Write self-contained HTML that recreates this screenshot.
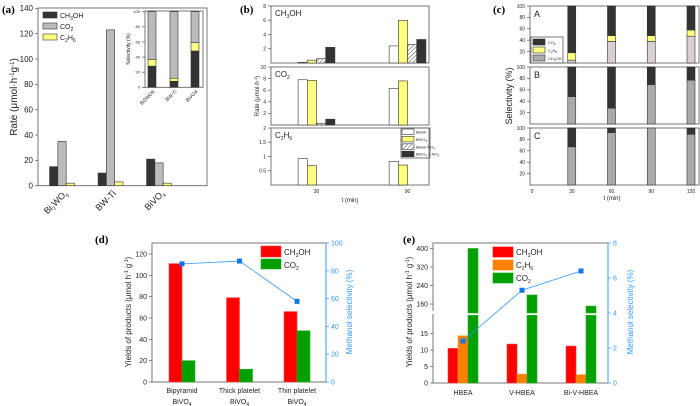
<!DOCTYPE html>
<html><head><meta charset="utf-8"><style>
html,body{margin:0;padding:0;background:#fff;}
svg{display:block;font-family:"Liberation Sans",sans-serif;}
.pl{font-family:"Liberation Serif",serif;font-weight:bold;font-size:11px;}
</style></head><body>
<svg id="fig" width="700" height="406" viewBox="0 0 700 406" xmlns="http://www.w3.org/2000/svg">
<defs><pattern id="hatch" patternUnits="userSpaceOnUse" width="3" height="3" patternTransform="rotate(45)"><rect width="3" height="3" fill="#fff"/><line x1="0" y1="0" x2="0" y2="3" stroke="#444" stroke-width="1"/></pattern></defs>
<text class="pl" x="2" y="13">(a)</text>
<text class="pl" x="240" y="13">(b)</text>
<text class="pl" x="493" y="13">(c)</text>
<text class="pl" x="95" y="243">(d)</text>
<text class="pl" x="403" y="243">(e)</text>
<text x="0" y="0" transform="translate(17,97) rotate(-90)" text-anchor="middle" font-size="10" fill="#222">Rate (μmol·h<tspan font-size="6" dy="-3">-1</tspan><tspan dy="3">g</tspan><tspan font-size="6" dy="-3">-1</tspan><tspan dy="3">)</tspan></text>
<text x="0" y="0" transform="translate(259,96) rotate(-90)" text-anchor="middle" font-size="6" fill="#222">Rate (μmol·h<tspan font-size="4" dy="-2">-1</tspan><tspan dy="2">)</tspan></text>
<text x="350" y="202" text-anchor="middle" font-size="6" fill="#222">t (min)</text>
<text x="0" y="0" transform="translate(512,96) rotate(-90)" text-anchor="middle" font-size="9" fill="#222">Selectivity (%)</text>
<text x="612" y="200" text-anchor="middle" font-size="6" fill="#222">t (min)</text>
<text x="0" y="0" transform="translate(131,312) rotate(-90)" text-anchor="middle" font-size="8" fill="#222">Yields of products (μmol h<tspan font-size="5" dy="-3">-1</tspan><tspan dy="3"> g</tspan><tspan font-size="5" dy="-3">-1</tspan><tspan dy="3">)</tspan></text>
<text x="0" y="0" transform="translate(352,312) rotate(-90)" text-anchor="middle" font-size="8" fill="#3399ff">Methanol selectivity (%)</text>
<text x="0" y="0" transform="translate(412,312) rotate(-90)" text-anchor="middle" font-size="8" fill="#222">Yields of products (μmol h<tspan font-size="5" dy="-3">-1</tspan><tspan dy="3"> g</tspan><tspan font-size="5" dy="-3">-1</tspan><tspan dy="3">)</tspan></text>
<text x="0" y="0" transform="translate(633,312) rotate(-90)" text-anchor="middle" font-size="8" fill="#3399ff">Methanol selectivity (%)</text>
</svg>
<script>
// ---- data ----
const aCats = ['Bi2WO6','BW-Ti','BiVO4'];
const aCH3OH = [15, 10, 21];
const aCO2 = [35, 123, 18];
const aC2H6 = [2, 3, 2];
const aTicks = [0,20,40,60,80,100,120,140];
const aSelCH3OH = [28, 8, 48];
const aSelC2H6 = [9, 4, 11];
const aSelTicks = [0,20,40,60,80,100];
const bTimes = [30, 90];
const bMeOH = [[0.1,0.4,0.6,2.2],[2.4,6.0,2.6,3.3]];
const bCO2 = [[7.8,7.7,0.3,1.0],[6.3,7.6,0,0]];
const bC2H6 = [[0.93,0.68,0,0],[0.83,0.70,0,0]];
const bTicksMeOH = [2,4,6,8];
const bTicksCO2 = [2,4,6,8,10];
const bTicksC2H6 = [0.5,1.0,1.5,2.0];
const cTimes = [30, 60, 90, 120];
const cA_CH3OH = [5, 38, 38, 47];
const cA_C2H6 = [13, 10, 10, 11];
const cB_CH3OH = [48, 28, 69, 77];
const cC_CH3OH = [67, 92, 100, 89];
const cTicks = [20,40,60,80,100];
const cXTicks = [0,30,60,90,120];
const dCats = ['Bipyramid','Thick platelet','Thin platelet'];
const dCH3OH = [111, 79, 66];
const dCO2 = [20, 12, 48];
const dSel = [85, 87, 58];
const dTicks = [0,20,40,60,80,100,120];
const dRTicks = [0,20,40,60,80,100];
const eCats = ['HBEA','V-HBEA','Bi-V-HBEA'];
const eCH3OH = [10.5, 11.8, 11.2];
const eC2H6 = [14.3, 2.7, 2.5];
const eCO2 = [400, 199, 151];
const eSel = [2.4, 5.3, 6.4];
const eLowTicks = [0,5,10,15];
const eHighTicks = [160,240,320,400];
const eRTicks = [0,2,4,6,8];

const svg = document.getElementById('fig');
const NS = 'http://www.w3.org/2000/svg';
function mk(tag, attrs){ const e=document.createElementNS(NS,tag); for(const k in attrs) e.setAttribute(k,attrs[k]); svg.appendChild(e); return e; }
function frame(x0,y0,x1,y1,nm,col){ const r=mk('rect',{x:x0,y:y0,width:x1-x0,height:y1-y0,fill:'none',stroke:col||'#555','stroke-width':0.8});
 
  }
function tickY(x,y,label,fs,nm,side,col){ const dir=side==='r'?1:-1;
 const l=mk('line',{x1:x,x2:x+dir*3,y1:y,y2:y,stroke:col||'#555','stroke-width':0.7});
 
 
 const t=mk('text',{x:x+dir*5,y:y+fs*0.35,'font-size':fs,fill:col||'#222','text-anchor':side==='r'?'start':'end'});
 t.textContent=label;
 
  }
function bar(x,y0,y1,w,fill,nm,stroke){ const r=mk('rect',{x:x,y:Math.min(y0,y1),width:w,height:Math.abs(y1-y0),fill:fill,stroke:stroke||'#333','stroke-width':0.6});
 
  return r; }
function txt(x,y,s,fs,nm,anchor,col){ const t=mk('text',{x:x,y:y,'font-size':fs,fill:col||'#222','text-anchor':anchor||'start'});
 t.innerHTML=s;
 
  return t; }

// ---- panel a ----
const ya = v => 185.7 - v*1.267;
const xa = i => 62 + i*48.5;
frame(38,8,207,185.7,'a-plot-frame');
aTicks.forEach(v=>tickY(38,ya(v),String(v),8,'a-y'));
const aFill=['#333','#bbb','#ffff80'];
aCats.forEach((c,i)=>{
 [aCH3OH[i],aCO2[i],aC2H6[i]].forEach((v,k)=>{ bar(xa(i)+(k-1.5)*8.3,ya(0),ya(v),8.3,aFill[k],'a-bar-'+c+'-'+k); });
 const lbl={'Bi2WO6':'Bi<tspan font-size="5" dy="2">2</tspan><tspan dy="-2">WO</tspan><tspan font-size="5" dy="2">6</tspan>','BW-Ti':'BW-Ti','BiVO4':'BiVO<tspan font-size="5" dy="2">4</tspan>'}[c];
 const t=mk('text',{x:0,y:0,'font-size':9,fill:'#222','text-anchor':'end',transform:'translate('+(xa(i)+6)+',194) rotate(-45)'});
 t.innerHTML=lbl;
 
 
});
[['CH<tspan font-size="5" dy="2">3</tspan><tspan dy="-2">OH</tspan>',0],['CO<tspan font-size="5" dy="2">2</tspan>',1],['C<tspan font-size="5" dy="2">2</tspan><tspan dy="-2">H</tspan><tspan font-size="5" dy="2">6</tspan>',2]].forEach(([s,k])=>{
 bar(43,12+k*11,18+k*11,14,aFill[k],'a-legend-swatch');
 txt(60,18+k*11,s,7,'a-legend-label');
});
// inset
const yi = v => 87.3 - v*0.756;
const xi = [152,174,195];
frame(145,11,203,87.3,'a-inset-frame');
aSelTicks.forEach(v=>tickY(145,yi(v),String(v),4,'a-inset-y'));
const it=mk('text',{x:0,y:0,'font-size':5,fill:'#222','text-anchor':'middle',transform:'translate(130,49) rotate(-90)'});
it.textContent='Selectivity (%)';


aCats.forEach((c,i)=>{
 const a=aSelCH3OH[i], b=a+aSelC2H6[i];
 bar(xi[i]-4,yi(0),yi(a),8,'#333','a-inset-bar-ch3oh');
 bar(xi[i]-4,yi(a),yi(b),8,'#ffff80','a-inset-bar-c2h6');
 bar(xi[i]-4,yi(b),yi(100),8,'#bbb','a-inset-bar-co2');
 const t=mk('text',{x:0,y:0,'font-size':5,fill:'#222','text-anchor':'end',transform:'translate('+(xi[i]+3)+',92) rotate(-45)'});
 t.textContent=c;
 
 
});

// ---- panel b ----
const xb = t => 316.5 + (t-30)*1.517;
const bPanels=[[6,63,8,bMeOH,bTicksMeOH,'CH<tspan font-size="5" dy="2">3</tspan><tspan dy="-2">OH</tspan>'],[67,125,10,bCO2,bTicksCO2,'CO<tspan font-size="5" dy="2">2</tspan>'],[128,185,2,bC2H6,bTicksC2H6,'C<tspan font-size="5" dy="2">2</tspan><tspan dy="-2">H</tspan><tspan font-size="5" dy="2">6</tspan>']];
const bFill=['#fff','#ffff80','url(#hatch)','#333'];
bPanels.forEach(([y0,y1,mx,data,ticks,name],p)=>{
 const yb=v=>y1-(v/mx)*(y1-y0);
 frame(271,y0,429,y1,'b-subplot-frame');
 ticks.forEach(v=>tickY(271,yb(v),String(v),5,'b-y'));
 txt(275,y0+10,name,8,'b-subplot-label');
 bTimes.forEach((t,i)=>{ data[i].forEach((v,k)=>{ if(v>0) bar(xb(t)-18.4+k*9.2,yb(0),yb(v),9.2,bFill[k],'b-bar'); }); });
});
bTimes.forEach(t=>{ txt(xb(t),193,String(t),5,'b-x-tick-label','middle'); });
frame(401,128,430,158,'b-legend-frame');
['Blank','BiVO<tspan font-size="3" dy="1">4</tspan>','Blank NO<tspan font-size="3" dy="1">3</tspan>','BiVO<tspan font-size="3" dy="1">4</tspan><tspan dy="-1"> + NO</tspan><tspan font-size="3" dy="1">3</tspan>'].forEach((s,k)=>{
 bar(402,129+k*7.4,134.5+k*7.4,12,bFill[k],'b-legend-swatch');
 txt(416,133.5+k*7.4,s,4,'b-legend-label');
});

// ---- panel c ----
const xc = t => 532 + t*1.325;
const cPanels=[[6,63,'A',cA_CH3OH,cA_C2H6,'#d8d0d0'],[67,124,'B',cB_CH3OH,null,'#aaa'],[128,185,'C',cC_CH3OH,null,'#aaa']];
cPanels.forEach(([y0,y1,lab,me,c2,mcol])=>{
 const yc=v=>y1-(v/100)*(y1-y0);
 frame(530,y0,699,y1,'c-subplot-frame');
 cTicks.forEach(v=>tickY(530,yc(v),String(v),5,'c-y'));
 txt(534,y0+11,lab,9,'c-subplot-label');
 cTimes.forEach((t,i)=>{
  const a=me[i], b=a+(c2?c2[i]:0);
  bar(xc(t)-4,yc(0),yc(a),8,mcol,'c-bar-ch3oh');
  if(c2) bar(xc(t)-4,yc(a),yc(b),8,'#ffff80','c-bar-c2h6');
  if(b<100) bar(xc(t)-4,yc(b),yc(100),8,'#333','c-bar-co2');
 });
});
cXTicks.forEach(t=>{ txt(xc(t),193,String(t),5,'c-x-tick-label','middle'); });
frame(531,37,563,63,'c-legend-frame');
[['CO<tspan font-size="3" dy="1">2</tspan>','#333'],['C<tspan font-size="3" dy="1">2</tspan><tspan dy="-1">H</tspan><tspan font-size="3" dy="1">6</tspan>','#ffff80'],['CH<tspan font-size="3" dy="1">3</tspan><tspan dy="-1">OH</tspan>','#aaa']].forEach(([s,f],k)=>{
 bar(533,39+k*8,45+k*8,12,f,'c-legend-swatch');
 txt(548,44+k*8,s,4,'c-legend-label');
});

// ---- panel d ----
const yd = v => 382 - v*1.0667;
const ydr = v => 382 - v*1.39;
const xd = i => 182 + i*57.5;
frame(152,243,326,382,'d-plot-frame');
const dra=mk('line',{x1:326,x2:326,y1:243,y2:382,stroke:'#3399ff','stroke-width':1});


dTicks.forEach(v=>tickY(152,yd(v),String(v),7,'d-y'));
dRTicks.forEach(v=>tickY(326,ydr(v),String(v),7,'d-yr','r','#3399ff'));
dCats.forEach((c,i)=>{
 bar(xd(i)-13,yd(0),yd(dCH3OH[i]),13,'#ff0000','d-bar-ch3oh','#ff4444');
 bar(xd(i),yd(0),yd(dCO2[i]),13,'#00a000','d-bar-co2','#22aa22');
 txt(xd(i),393,c,7,'d-x-label','middle');
 txt(xd(i),404,'BiVO<tspan font-size="5" dy="2">4</tspan>',7,'d-x-label-2','middle');
});
const dl=mk('polyline',{points:dSel.map((v,i)=>xd(i)+','+ydr(v)).join(' '),fill:'none',stroke:'#3399ff','stroke-width':0.8});


dSel.forEach((v,i)=>{ const m=mk('rect',{x:xd(i)-2.5,y:ydr(v)-2.5,width:5,height:5,fill:'#1177ee'});
 
  });
bar(261,246,257,20,'#ff0000','d-legend-swatch','#ff4444');
txt(284,255,'CH<tspan font-size="5" dy="2">3</tspan><tspan dy="-2">OH</tspan>',8,'d-legend-label');
bar(261,259,269,20,'#00a000','d-legend-swatch','#22aa22');
txt(284,268,'CO<tspan font-size="5" dy="2">2</tspan>',8,'d-legend-label');

// ---- panel e ----
const yeL = v => 383 - Math.min(v,20.5)*3.3;
const yeH = v => 304 - (v-160)*0.2313;
const yer = v => 383 - v*17.5;
const xe = i => 463 + i*59;
frame(433,243,608,383,'e-plot-frame');
const era=mk('line',{x1:608,x2:608,y1:243,y2:383,stroke:'#3399ff','stroke-width':1});


const brk=mk('rect',{x:428,y:311,width:10,height:3,fill:'#fff'});


eLowTicks.forEach(v=>tickY(433,yeL(v),String(v),7,'e-y'));
eHighTicks.forEach(v=>tickY(433,yeH(v),String(v),7,'e-y-upper'));
eRTicks.forEach(v=>tickY(608,yer(v),String(v),7,'e-yr','r','#3399ff'));
eCats.forEach((c,i)=>{
 bar(xe(i)-15,yeL(0),yeL(eCH3OH[i]),10,'#ff0000','e-bar-ch3oh','#ff4444');
 bar(xe(i)-5,yeL(0),yeL(eC2H6[i]),10,'#ff8000','e-bar-c2h6','#ff9933');
 bar(xe(i)+5,yeL(0),yeL(eCO2[i]),10,'#00a000','e-bar-co2-lower','#22aa22');
 if(eCO2[i]>125) bar(xe(i)+5,313,yeH(eCO2[i]),10,'#00a000','e-bar-co2-upper','#22aa22');
 txt(xe(i),395,c,7,'e-x-label','middle');
});
const el=mk('polyline',{points:eSel.map((v,i)=>xe(i)+','+yer(v)).join(' '),fill:'none',stroke:'#3399ff','stroke-width':0.8});


eSel.forEach((v,i)=>{ const m=mk('rect',{x:xe(i)-2.5,y:yer(v)-2.5,width:5,height:5,fill:'#1177ee'});
 
  });
[['CH<tspan font-size="5" dy="2">3</tspan><tspan dy="-2">OH</tspan>','#ff0000'],['C<tspan font-size="5" dy="2">2</tspan><tspan dy="-2">H</tspan><tspan font-size="5" dy="2">6</tspan>','#ff8000'],['CO<tspan font-size="5" dy="2">2</tspan>','#00a000']].forEach(([s,f],k)=>{
 bar(493,247+k*13,257+k*13,20,f,'e-legend-swatch',f);
 txt(516,255+k*13,s,8,'e-legend-label');
});
</script>
</body></html>
